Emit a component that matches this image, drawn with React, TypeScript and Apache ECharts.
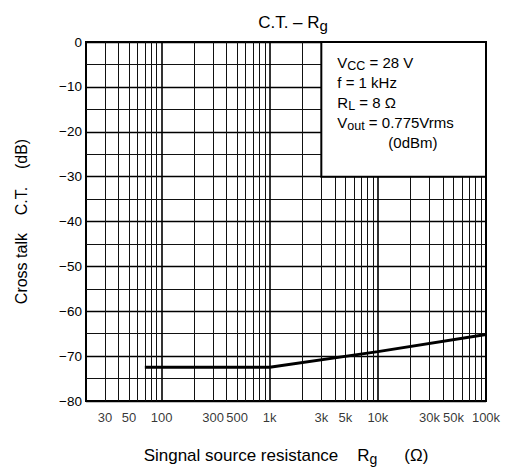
import React, { useEffect, useRef } from "react";
import * as echarts from "echarts";

// Curve: crosstalk vs. signal source resistance
const rgValues = [70, 1000, 10000, 100000];
const ctValues = [-72.5, -72.5, -69.0, -65.2];

// X tick labels (log axis)
const xTickValues = [30, 50, 100, 300, 500, 1000, 3000, 5000, 10000, 30000, 50000, 100000];
const xTickLabels = ["30", "50", "100", "300", "500", "1k", "3k", "5k", "10k", "30k", "50k", "100k"];

// Grid lines
const xMinorGrid = [30, 40, 50, 60, 70, 80, 90, 200, 300, 400, 500, 600, 700, 800, 900,
  2000, 3000, 4000, 5000, 6000, 7000, 8000, 9000, 20000, 30000, 40000, 50000, 60000, 70000, 80000, 90000];
const xMajorGrid = [100, 1000, 10000];
const yMinorGrid = [-5, -15, -25, -35, -45, -55, -65, -75];

const FONT = "Liberation Sans, Arial, sans-serif";

export default function App() {
  const ref = useRef<HTMLDivElement>(null);
  useEffect(() => {
    if (!ref.current) return;
    const chart = echarts.init(ref.current, undefined, { renderer: "svg" });
    const option: any = {
      animation: false,
      backgroundColor: "#fff",
      textStyle: { fontFamily: FONT, color: "#000" },
      title: {
        text: "{a|C.T. – R}{b|g}",
        left: 288,
        top: 6,
        textAlign: "center",
        textStyle: {
          fontWeight: "normal",
          rich: {
            a: { fontSize: 17, lineHeight: 22, color: "#000", fontFamily: FONT, fontWeight: "normal" },
            b: { fontSize: 15, lineHeight: 18, verticalAlign: "bottom", color: "#000", fontFamily: FONT, fontWeight: "normal" },
          },
        },
      },
      grid: {
        left: 86,
        right: 19,
        top: 42,
        bottom: 68,
        show: true,
        borderColor: "#000",
        borderWidth: 2,
        backgroundColor: "transparent",
      },
      xAxis: {
        type: "log",
        logBase: 10,
        min: 20,
        max: 100000,
        axisLine: { show: false },
        axisTick: { show: false },
        axisLabel: { show: false },
        splitLine: { show: false },
        name: "{a|Singnal source resistance}{r|R}{b|g}{c|(Ω)}",
        nameLocation: "middle",
        nameGap: 43,
        nameTextStyle: {
          rich: {
            a: { fontSize: 17, lineHeight: 22, color: "#000", fontFamily: FONT },
            r: { fontSize: 17, lineHeight: 22, color: "#000", fontFamily: FONT, padding: [0, 0, 0, 19] },
            b: { fontSize: 14, lineHeight: 17, verticalAlign: "bottom", color: "#000", fontFamily: FONT, padding: [0, 27, 0, 0] },
            c: { fontSize: 17, lineHeight: 22, color: "#000", fontFamily: FONT },
          },
        },
      },
      yAxis: {
        type: "value",
        min: -80,
        max: 0,
        interval: 10,
        axisLine: { show: false },
        axisTick: { show: false },
        axisLabel: {
          color: "#000",
          fontSize: 13.5,
          fontFamily: FONT,
          margin: 4,
          formatter: (v: number) => (v === 0 ? "0" : "\u2212" + Math.abs(v)),
        },
        splitLine: { show: true, lineStyle: { color: "#000", width: 1.4 } },
        name: "Cross talk    C.T.    (dB)",
        nameLocation: "middle",
        nameGap: 57,
        nameTextStyle: { fontSize: 16, color: "#000", fontFamily: FONT },
      },
      series: [
        {
          type: "line",
          data: [],
          z: 1,
          silent: true,
          markLine: {
            z: 1,
            silent: true,
            symbol: ["none", "none"],
            label: { show: false },
            emphasis: { disabled: true },
            lineStyle: { color: "#111", width: 1, type: "solid" },
            data: [
              ...xMinorGrid.map((v) => ({ xAxis: v })),
              ...yMinorGrid.map((v) => ({ yAxis: v })),
            ],
          },
        },
        {
          type: "line",
          data: [],
          z: 2,
          silent: true,
          markLine: {
            z: 2,
            silent: true,
            symbol: ["none", "none"],
            label: { show: false },
            emphasis: { disabled: true },
            lineStyle: { color: "#000", width: 1.6, type: "solid" },
            data: xMajorGrid.map((v) => ({ xAxis: v })),
          },
        },
        {
          type: "line",
          data: [],
          z: 10,
          silent: true,
          markArea: {
            z: 10,
            silent: true,
            emphasis: { disabled: true },
            itemStyle: { color: "#fff", borderColor: "#000", borderWidth: 2, opacity: 1 },
            label: {
              show: true,
              position: "insideTopLeft",
              distance: 5,
              padding: [6, 0, 0, 12],
              formatter:
                "{n|V}{s|CC}{n| = 28 V}\n{n|f = 1 kHz}\n{n|R}{s|L}{n| = 8 Ω}\n{n|V}{s|out}{n| = 0.775Vrms}\n{i|(0dBm)}",
              rich: {
                n: { fontSize: 15, lineHeight: 20, color: "#000", fontFamily: FONT },
                s: { fontSize: 12.5, lineHeight: 15, verticalAlign: "bottom", color: "#000", fontFamily: FONT },
                i: { fontSize: 15, lineHeight: 20, color: "#000", fontFamily: FONT, padding: [0, 0, 0, 51] },
              },
            },
            data: [[{ xAxis: 3000, yAxis: 0 }, { xAxis: 100000, yAxis: -30 }]],
          },
        },
        {
          type: "line",
          data: rgValues.map((x, i) => [x, ctValues[i]]),
          z: 20,
          symbol: "none",
          silent: true,
          lineStyle: { color: "#000", width: 3 },
          clip: false,
        },
        {
          type: "scatter",
          z: 20,
          silent: true,
          symbolSize: 0,
          clip: false,
          data: xTickValues.map((v) => [v, -80]),
          label: {
            show: true,
            position: "bottom",
            distance: 10,
            color: "#000",
            fontSize: 13,
            fontFamily: FONT,
            formatter: (p: any) => xTickLabels[p.dataIndex],
          },
        },
      ],
    };
    chart.setOption(option);
    return () => chart.dispose();
  }, []);
  return (
    <div
      ref={ref}
      style={{ position: "fixed", left: 0, top: 0, width: 505, height: 471 }}
    />
  );
}
